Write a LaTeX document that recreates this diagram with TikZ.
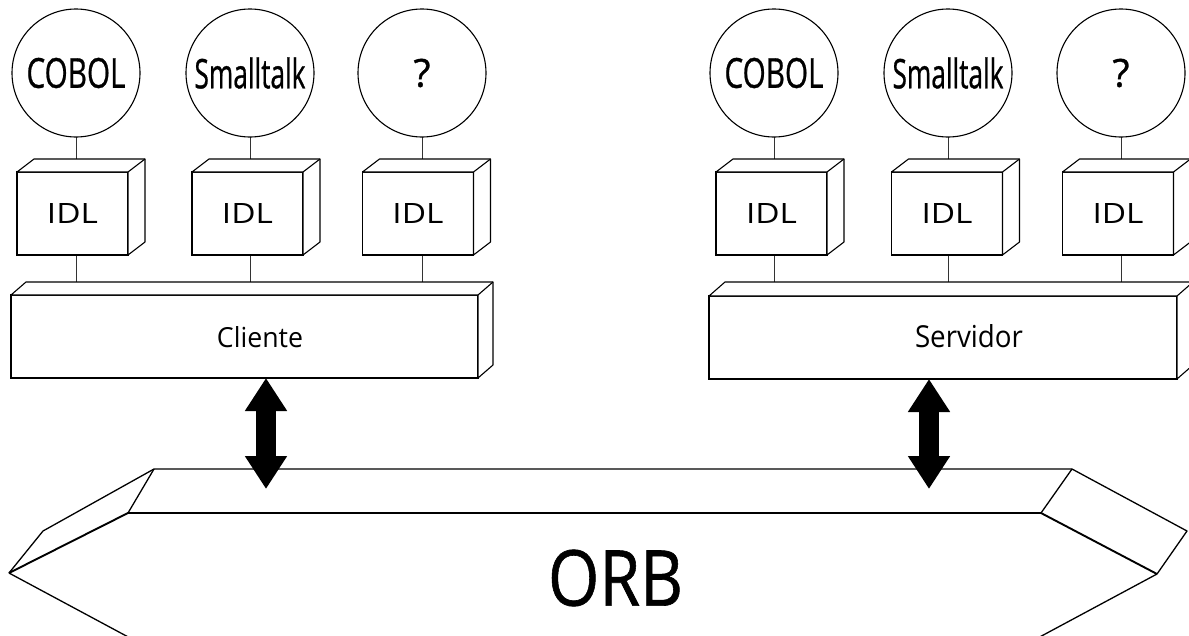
\documentclass[tikz,border=0pt]{standalone}
\usepackage{fontspec}
\setmainfont{Open Sans}
\newfontfamily\inkfont[FakeBold=0.8]{Open Sans}
\usepackage{graphicx}
\usetikzlibrary{arrows.meta,calc,backgrounds}

% text squeezed into a given width and height (in pt)
\newcommand\fittext[3]{\resizebox{#1pt}{#2pt}{#3}}
% top and right faces of a 3-D block whose front face is node #1
\newcommand\depthfaces[3]{%
  \draw[face] (#1.north west) -- ++(#2,#3)
    -- ([shift={(#2,#3)}]#1.north east)
    -- ([shift={(#2,#3)}]#1.south east)
    -- (#1.south east) -- (#1.north east) -- cycle;
  \draw[face] (#1.north east) -- ++(#2,#3);
}

\begin{document}
\begin{tikzpicture}[x=1pt,y=-1pt,
  lang/.style={circle, draw, line width=1.1pt, minimum size=128pt,
    inner sep=0pt, outer sep=0pt, font=\inkfont},
  idl/.style={rectangle, draw, fill=white, line width=1.1pt,
    minimum width=111pt, minimum height=83pt, inner sep=0pt, outer sep=0pt},
  layer/.style={rectangle, draw, fill=white, line width=1.1pt,
    minimum height=83pt, inner sep=0pt, outer sep=0pt},
  face/.style={draw, fill=white, line width=1.1pt, line join=round},
  wire/.style={line width=0.9pt, black!80},
  lbl/.style={inner sep=0pt, outer sep=0pt},
  dbl/.style={line width=20pt,
    {Triangle[length=33pt,width=40pt]}-{Triangle[length=33pt,width=40pt]}},
  orbline/.style={line width=1.3pt, line join=round},
  orbheavy/.style={line width=1.9pt, line join=round}]

\useasboundingbox (0,0) rectangle (1189,635);
\clip (0,0) rectangle (1189,635);

% ---- language circles ----
\node[lang] (c1) at (76,73)   {\fittext{99}{30}{COBOL}};
\node[lang] (c2) at (250,73)  {\fittext{111}{31}{Smalltalk}};
\node[lang] (c3) at (422,73)  {\fittext{17}{28}{?}};
\node[lang] (c4) at (774,73)  {\fittext{99}{30}{COBOL}};
\node[lang] (c5) at (948,73)  {\fittext{111}{31}{Smalltalk}};
\node[lang] (c6) at (1121,73) {\fittext{17}{28}{?}};

% ---- IDL blocks ----
\node[idl] (b1) at (72.5,213.5) {\fittext{51}{20}{IDL}};
\node[idl] (b2) at (247.5,213.5) {\fittext{51}{20}{IDL}};
\node[idl] (b3) at (418,213.5) {\fittext{51}{20}{IDL}};
\node[idl] (b4) at (771.5,213.5) {\fittext{51}{20}{IDL}};
\node[idl] (b5) at (947,213.5) {\fittext{51}{20}{IDL}};
\node[idl] (b6) at (1118,213.5) {\fittext{51}{20}{IDL}};
\foreach \b in {b1,b2,b3,b4,b5,b6} {\depthfaces{\b}{17}{-13}}

% ---- client and server layers ----
\node[layer, minimum width=467pt] (cli) at (244.5,336.5) {};
\node[layer, minimum width=468pt] (srv) at (943,337.5) {};
\depthfaces{cli}{15}{-13}
\depthfaces{srv}{16}{-14}
\node[lbl] (clitxt) at (260,337.5) {\fittext{86}{21}{Cliente}};
\node[lbl] (srvtxt) at (969,336.5) {\fittext{108}{23}{Servidor}};

% ---- white page and the wires between circles, blocks and layers ----
\begin{scope}[on background layer]
  \fill[white] (0,0) rectangle (1189,635);
  \foreach \c/\b/\l in {c1/b1/cli,c2/b2/cli,c3/b3/cli,c4/b4/srv,c5/b5/srv,c6/b6/srv} {
    \draw[wire] (\c.south) -- (\c.south |- \b.north);
    \draw[wire] (\c |- \b.south) -- (\c |- \l.north);
  }
\end{scope}

% ---- ORB bus ----
\draw[orbline] (154,469) -- (1072,469) -- (1187,531) -- (1157,574)
  (1041,513) -- (128,513) (9,573) -- (43,531) -- (154,469);
\draw[orbline] (154,469) -- (128,513);
\draw[orbline] (1072,469) -- (1041,513);
\draw[orbheavy] (9,573) -- (128,513) -- (1041,513) -- (1157,574);
\draw[orbline] (9,573) -- (145,646);
\draw[orbline] (1157,574) -- (1021,647);
\node[lbl, font=\inkfont] (orb) at (615.5,578) {\fittext{135}{56}{ORB}};

% ---- request paths between layers and the ORB ----
\coordinate (orbL) at (266,489);
\coordinate (orbR) at (929,489);
\draw[dbl] ([xshift=21.5pt]cli.south) -- (orbL);
\draw[dbl] ([xshift=-14pt]srv.south) -- (orbR);

\end{tikzpicture}
\end{document}
